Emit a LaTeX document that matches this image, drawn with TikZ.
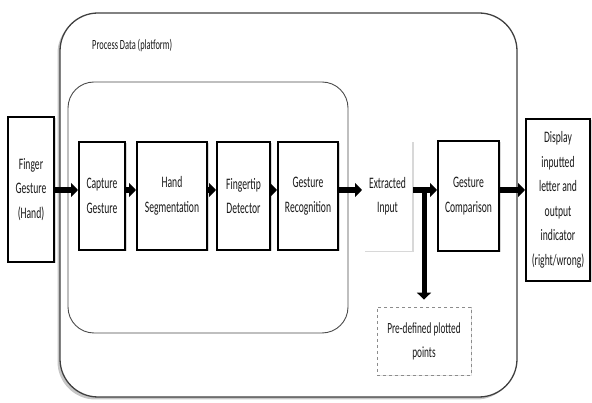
\documentclass[tikz,border=0pt]{standalone}
\usepackage{fontspec}
\newfontfamily\condfont[FakeStretch=0.6]{Carlito}
\usetikzlibrary{arrows.meta,positioning,shadows}

\begin{document}
\begin{tikzpicture}[x=1pt, y=-1pt,
	every node/.style={font=\condfont\fontsize{16}{24.5}\selectfont, align=center, inner sep=0pt, text=black!90},
	stage/.style={draw, line width=2pt, fill=white, minimum height=108pt, drop shadow={shadow xshift=1.5pt, shadow yshift=-1.5pt, opacity=0.3}},
	flow/.style={line width=6pt, -{Triangle[length=7pt,width=14pt]}}]
	\useasboundingbox (0,0) rectangle (592,403);
	% platform
	\path[draw=black!75, line width=1.3pt, fill=white, rounded corners=38pt, drop shadow={shadow xshift=-2.5pt, shadow yshift=-2.5pt, opacity=0.45}] (60,13) rectangle (517,397);
	\draw[black!70, line width=0.9pt, rounded corners=26pt] (68,82) rectangle (348,333);
	\node[anchor=west, font=\condfont\fontsize{14}{16}\selectfont] (title) at (92,46) {Process Data (platform)};
	% input
	\node[stage, minimum width=46pt, minimum height=145pt] (fing) at (31,189.5) {Finger\\Gesture\\(Hand)};
	% stages
	\node[stage, minimum width=46pt] (capt) at (102,196) {Capture\\Gesture};
	\node[stage, minimum width=70pt, right=10pt of capt] (hand) {Hand\\Segmentation};
	\node[stage, minimum width=53pt, right=8pt of hand] (tip) {Fingertip\\Detector};
	\node[stage, minimum width=60pt, right=6pt of tip] (recog) {Gesture\\Recognition};
	\node[stage, draw=none, minimum width=49pt, minimum height=110pt, right=23pt of recog] (extr) {Extracted\\Input};
	\node[stage, minimum width=61pt, minimum height=110pt, right=24pt of extr] (comp) {Gesture\\Comparison};
	% output
	\node[stage, minimum width=64pt, minimum height=162pt] (disp) at (558,200) {Display\\inputted\\letter and\\output\\indicator\\(right/wrong)};
	\node[draw=black!45, dashed, line width=0.8pt, fill=white, minimum width=94pt, minimum height=68pt, font=\condfont\fontsize{15.5}{24}\selectfont, drop shadow={shadow xshift=1pt, shadow yshift=-1pt, opacity=0.2}] (pre) at (424,341) {Pre-defined plotted\\points};
	% arrows
	\coordinate (lane) at (0,190);
	\foreach \a/\b in {fing/capt, capt/hand, hand/tip, tip/recog, recog/extr, extr/comp, comp/disp}
		\draw[flow] (\a.east |- lane) -- (\b.west |- lane);
	\coordinate (split) at (pre.north |- lane);
	\draw[flow, line width=5pt] (split) -- ([yshift=7pt]pre.north);
\end{tikzpicture}
\end{document}
